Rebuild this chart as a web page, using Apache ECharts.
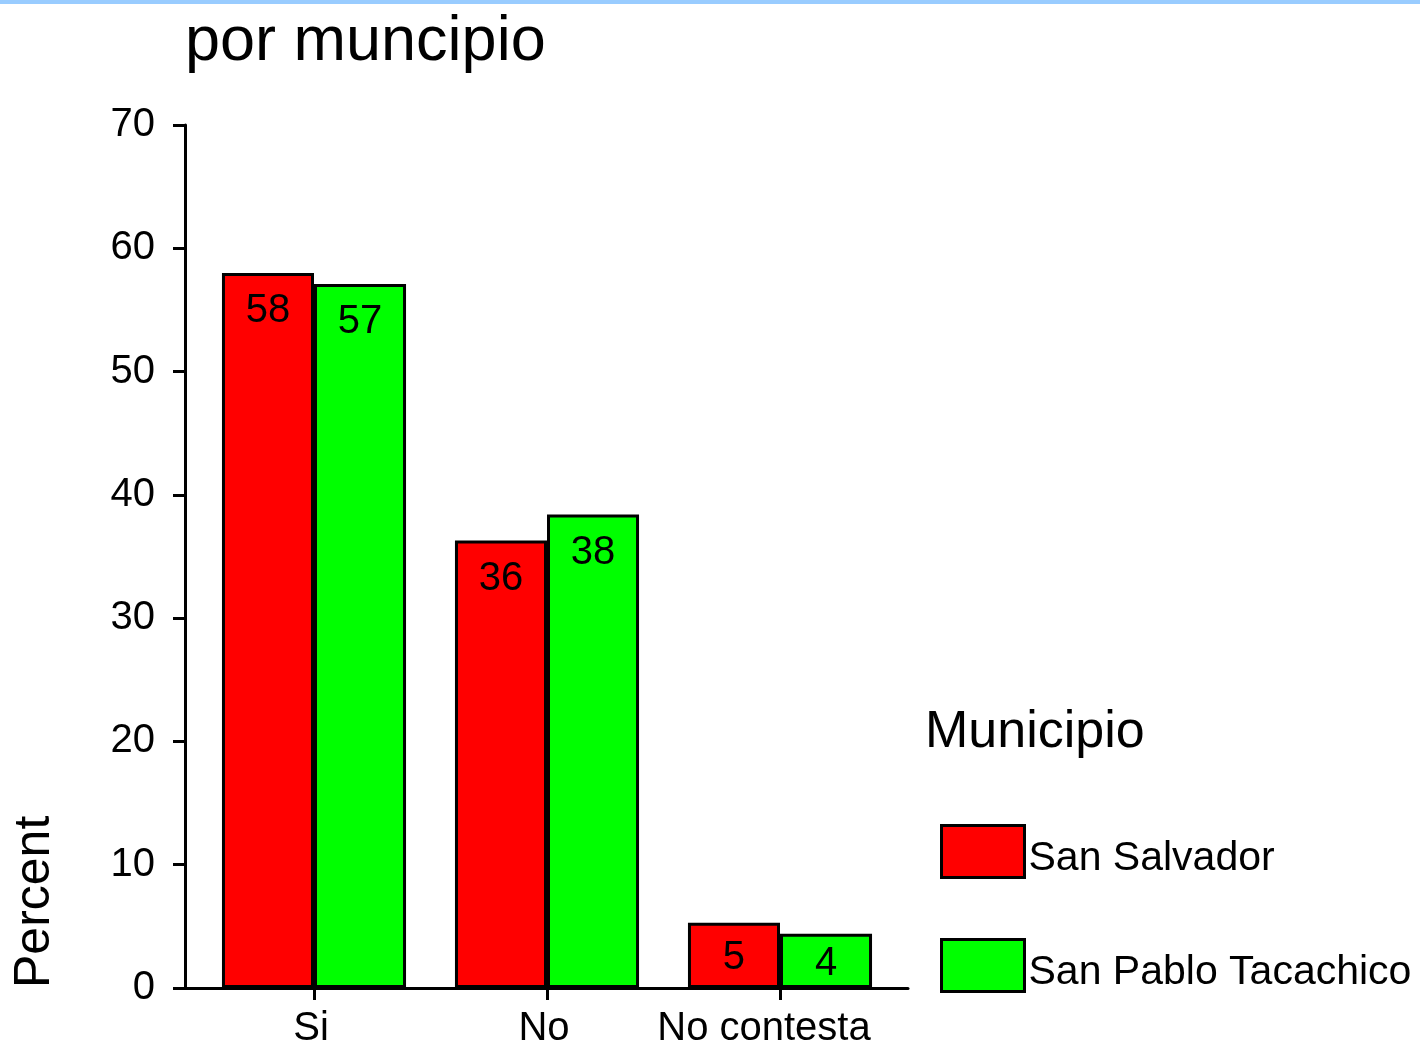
<!DOCTYPE html>
<html><head><meta charset="utf-8">
<script src="https://cdn.jsdelivr.net/npm/echarts@6/dist/echarts.min.js"></script>
<style>html,body{margin:0;padding:0;background:#fff}#c{width:1420px;height:1047px}</style>
</head><body><div id="c"></div>
<script>
const categories = ['Si', 'No', 'No contesta'];
const seriesNames = ['San Salvador', 'San Pablo Tacachico'];
const sanSalvador = [58.0, 36.3, 5.3];
const sanPablo = [57.1, 38.4, 4.4];
const seriesColors = ['#ff0000', '#00ff00'];
const yMin = 0, yMax = 70, yInterval = 10;
const titleText = 'por muncipio';
const legendTitle = 'Municipio';
const yName = 'Percent';

const FONT = '"Liberation Sans", Arial, sans-serif';
const chart = echarts.init(document.getElementById('c'), null, {renderer: 'canvas'});

function mkData(vals) {
  return vals.map(v => ({
    value: v,
    label: v < 10 ? {position: 'inside', offset: [0, 3]} : {position: 'insideTop', distance: 18}
  }));
}

const catData = categories.map((c, i) => i === categories.length - 1
  ? {value: c, textStyle: {padding: [0, 32, 0, 0]}}
  : {value: c, textStyle: {padding: [0, 6, 0, 0]}});

const option = {
  animation: false,
  backgroundColor: '#fff',
  title: [
    {text: titleText, left: 185, top: 11, padding: 0, textStyle: {fontFamily: FONT, fontSize: 63, fontWeight: 'normal', color: '#000'}},
    {text: legendTitle, left: 925, top: 707, padding: 0, textStyle: {fontFamily: FONT, fontSize: 52, fontWeight: 'normal', color: '#000'}}
  ],
  graphic: [
    {type: 'rect', left: 0, top: 0, shape: {width: 1420, height: 4}, style: {fill: '#99ccff'}, silent: true},
    {type: 'text', x: 35, y: 988, rotation: Math.PI / 2,
     style: {text: yName, font: '50px ' + FONT, fill: '#000', textAlign: 'left', textVerticalAlign: 'middle'}}
  ],
  legend: {
    orient: 'vertical', left: 940, top: 824, padding: 0, itemWidth: 83, itemHeight: 52, itemGap: 59,
    icon: 'rect', data: seriesNames,
    itemStyle: {borderColor: '#000', borderWidth: 3},
    formatter: n => '{a|' + n + '}',
    textStyle: {fontFamily: FONT, fontSize: 41, color: '#000', padding: [0, 0, 0, -1],
      rich: {a: {fontFamily: FONT, fontSize: 41, color: '#000', padding: [14, 0, 0, 0]}}}
  },
  grid: [
    {left: 185, top: 125, width: 723, height: 863, outerBoundsMode: 'none', containLabel: false},
    {left: 197.5, top: 125, width: 699, height: 863, outerBoundsMode: 'none', containLabel: false}
  ],
  xAxis: [
    {gridIndex: 0, type: 'value', min: 0, max: 1, axisLine: {show: true, lineStyle: {color: '#000', width: 3}},
     axisTick: {show: false}, axisLabel: {show: false}, splitLine: {show: false}},
    {gridIndex: 1, type: 'category', data: catData, axisLine: {show: false},
     axisTick: {show: true, alignWithLabel: true, length: 12, lineStyle: {color: '#000', width: 3}},
     axisLabel: {interval: 0, fontFamily: FONT, fontSize: 40, color: '#000', margin: 21},
     splitLine: {show: false}}
  ],
  yAxis: [
    {gridIndex: 0, type: 'value', min: yMin, max: yMax, interval: yInterval,
     axisLine: {show: true, lineStyle: {color: '#000', width: 3}},
     axisTick: {show: true, inside: false, length: 12, lineStyle: {color: '#000', width: 3}},
     axisLabel: {fontFamily: FONT, fontSize: 40, color: '#000', margin: 30},
     splitLine: {show: false}},
    {gridIndex: 1, type: 'value', min: yMin, max: yMax, interval: yInterval, show: false}
  ],
  series: [
    {name: seriesNames[0], type: 'bar', xAxisIndex: 1, yAxisIndex: 1, data: mkData(sanSalvador),
     barGap: '0%', barCategoryGap: '21%',
     itemStyle: {color: seriesColors[0], borderColor: '#000', borderWidth: 3},
     label: {show: true, color: '#000', fontFamily: FONT, fontSize: 40, formatter: p => Math.round(p.value)}},
    {name: seriesNames[1], type: 'bar', xAxisIndex: 1, yAxisIndex: 1, data: mkData(sanPablo),
     barGap: '0%', barCategoryGap: '21%',
     itemStyle: {color: seriesColors[1], borderColor: '#000', borderWidth: 3},
     label: {show: true, color: '#000', fontFamily: FONT, fontSize: 40, formatter: p => Math.round(p.value)}}
  ]
};
chart.setOption(option);
</script>
</body></html>
